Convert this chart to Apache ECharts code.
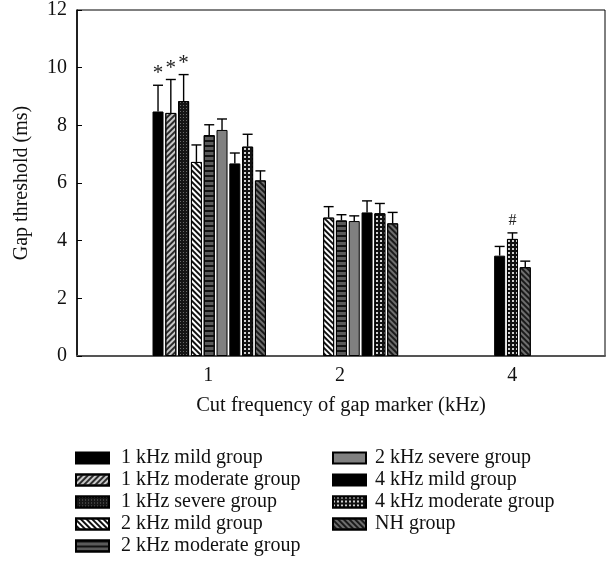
<!DOCTYPE html>
<html><head><meta charset="utf-8">
<script src="https://cdn.jsdelivr.net/npm/echarts@6/dist/echarts.min.js"></script>
<style>html,body{margin:0;padding:0;background:#fff}#c{width:607px;height:579px}</style>
</head><body><div id="c"></div>
<script>
// ---- data ----
const categories = ['1', '2', '4'];
const seriesNames = ['1 kHz mild group','1 kHz moderate group','1 kHz severe group','2 kHz mild group','2 kHz moderate group','2 kHz severe group','4 kHz mild group','4 kHz moderate group','NH group'];
const mild1 = [8.48, null, null];
const moderate1 = [8.43, null, null];
const severe1 = [8.84, null, null];
const mild2 = [6.73, 4.80, null];
const moderate2 = [7.66, 4.70, null];
const severe2 = [7.84, 4.68, null];
const mild4 = [6.68, 4.98, 3.48];
const moderate4 = [7.26, 4.95, 4.06];
const nhGroup = [6.09, 4.60, 3.08];
// upper error (SD)
const mild1Err = [0.91, null, null];
const moderate1Err = [1.16, null, null];
const severe1Err = [0.92, null, null];
const mild2Err = [0.59, 0.38, null];
const moderate2Err = [0.36, 0.20, null];
const severe2Err = [0.38, 0.18, null];
const mild4Err = [0.36, 0.40, 0.32];
const moderate4Err = [0.43, 0.34, 0.21];
const nhErr = [0.33, 0.38, 0.21];
// significance markers
const mild1Mark = ['*', null, null];
const moderate1Mark = ['*', null, null];
const severe1Mark = ['*', null, null];
const noMark = [null, null, null];
const moderate4Mark = [null, null, '#'];
const yTicks = [0, 2, 4, 6, 8, 10, 12];

const values = [mild1, moderate1, severe1, mild2, moderate2, severe2, mild4, moderate4, nhGroup];
const errs = [mild1Err, moderate1Err, severe1Err, mild2Err, moderate2Err, severe2Err, mild4Err, moderate4Err, nhErr];
const marks = [mild1Mark, moderate1Mark, severe1Mark, noMark, noMark, noMark, noMark, moderate4Mark, noMark];

// ---- layout (x axis in units of one bar slot) ----
const X_MAX = 41.25;
const groupCenter = [10.33, 22.16, 34.02];
const labelPos = [10.26, 20.55, 34.0];

const styles = [
  {color:'#000'},
  {color:'#c8c8c8', decal:{symbol:'rect', color:'#2a2a2a', dashArrayX:[1,0], dashArrayY:[2,2], rotation:-Math.PI/4, symbolSize:1}},
  {color:'#151515', decal:{symbol:'rect', color:'#6a6a6a', dashArrayX:[1,2], dashArrayY:[1,2], symbolSize:1}},
  {color:'#fff', decal:{symbol:'rect', color:'#111', dashArrayX:[1,0], dashArrayY:[2,2], rotation:Math.PI/4, symbolSize:1}},
  {color:'#5a5a5a', decal:{symbol:'rect', color:'#111', dashArrayX:[1,0], dashArrayY:[2,3], symbolSize:1}},
  {color:'#808080'},
  {color:'#000'},
  {color:'#111', decal:{symbol:'rect', color:'#d0d0d0', dashArrayX:[2,2], dashArrayY:[2,2], symbolSize:1}},
  {color:'#6e6e6e', decal:{symbol:'rect', color:'#1a1a1a', dashArrayX:[1,0], dashArrayY:[2,2], rotation:Math.PI/4, symbolSize:1}}
];

// positions of bars: present series in each category centred on the group
const barData = values.map(() => []);
const errData = [];
const errMarks = [];
categories.forEach((c, ci) => {
  const present = values.map((v, si) => v[ci] != null ? si : -1).filter(i => i >= 0);
  const n = present.length;
  present.forEach((si, j) => {
    const x = groupCenter[ci] + (j - (n - 1) / 2);
    barData[si].push([x, values[si][ci]]);
    errData.push([x, values[si][ci], values[si][ci] + errs[si][ci]]);
    errMarks.push(marks[si][ci]);
  });
});

const FONT = 'Liberation Serif';
const FS = 20;
const series = seriesNames.map((name, si) => ({
  name, type: 'bar', data: barData[si], barWidth: 11, barGap: '-100%',
  itemStyle: Object.assign({borderColor:'#000', borderWidth:1}, styles[si]),
  emphasis: {disabled: true}, z: 2
}));
series.push({
  name: 'err', type: 'custom', z: 5, data: errData,
  renderItem: function (params, api) {
    const x = api.value(0), top = api.value(2);
    const p0 = api.coord([x, api.value(1)]);
    const p1 = api.coord([x, top]);
    const st = {stroke:'#000', lineWidth:1.4};
    const ch = [
      {type:'line', shape:{x1:p0[0], y1:p0[1], x2:p1[0], y2:p1[1]}, style:st},
      {type:'line', shape:{x1:p1[0]-5, y1:p1[1], x2:p1[0]+5, y2:p1[1]}, style:st}
    ];
    const m = errMarks[params.dataIndex];
    if (m) {
      ch.push({type:'text', style:{text:m, x:p1[0], y:p1[1]-(m==='*'?1:4), align:'center', verticalAlign:'bottom', fontFamily:FONT, fontSize: m==='*'?21:16, fill:'#222'}});
    }
    return {type:'group', children: ch};
  }
});

const chart = echarts.init(document.getElementById('c'), null, {renderer:'canvas'});
chart.setOption({
  animation: false,
  backgroundColor: '#fff',
  grid: {left: 77, right: 2, top: 8, bottom: 223, show: true, borderColor: '#000', borderWidth: 1, backgroundColor: 'transparent'},
  xAxis: {
    type: 'value', min: 0, max: X_MAX,
    name: 'Cut frequency of gap marker (kHz)', nameLocation: 'middle', nameGap: 39,
    nameTextStyle: {fontFamily: FONT, fontSize: 20.5, color: '#111'},
    axisLine: {show: true, lineStyle: {color: '#555', width: 2}},
    axisTick: {show: false},
    splitLine: {show: false},
    axisLabel: {
      customValues: labelPos, margin: 10,
      formatter: function (v) { const i = labelPos.findIndex(p => Math.abs(p - v) < 1e-6); return i >= 0 ? categories[i] : ''; },
      fontFamily: FONT, fontSize: FS, color: '#111'
    }
  },
  yAxis: {
    type: 'value', min: yTicks[0], max: yTicks[yTicks.length-1], interval: 2,
    name: 'Gap threshold (ms)', nameLocation: 'middle', nameGap: 45,
    nameTextStyle: {fontFamily: FONT, fontSize: FS, color: '#111'},
    axisLine: {show: true, lineStyle: {color: '#000', width: 1.5}},
    axisTick: {show: true, inside: true, length: 5, lineStyle: {color: '#000'}},
    splitLine: {show: false},
    axisLabel: {fontFamily: FONT, fontSize: FS, color: '#111', margin: 10}
  },
  legend: [
    {data: seriesNames.slice(0, 5), orient: 'vertical', left: 75, top: 448, padding: 0, itemGap: 2,
     itemWidth: 33, itemHeight: 11, icon: 'rect', selectedMode: false,
     textStyle: {fontFamily: FONT, fontSize: FS, color: '#111', lineHeight: 20, padding: [0,0,0,7]}},
    {data: seriesNames.slice(5), orient: 'vertical', left: 332, top: 448, padding: 0, itemGap: 2,
     itemWidth: 33, itemHeight: 11, icon: 'rect', selectedMode: false,
     textStyle: {fontFamily: FONT, fontSize: FS, color: '#111', lineHeight: 20, padding: [0,0,0,4]}}
  ],
  series
});
</script></body></html>
